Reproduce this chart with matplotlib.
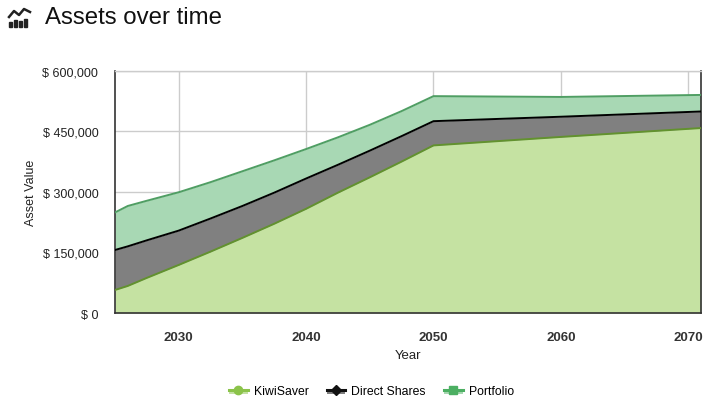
import numpy as np
import matplotlib
matplotlib.use("Agg")
import matplotlib.pyplot as plt
from matplotlib.lines import Line2D
from matplotlib.patches import Rectangle
from matplotlib.legend_handler import HandlerBase

plt.rcParams['font.family'] = ['Liberation Sans', 'DejaVu Sans']

# ---- data (values in NZD) ----
years = [2025, 2026, 2027.5, 2030, 2032.5, 2035, 2037.5, 2040, 2042.5, 2045, 2047.5, 2050, 2060, 2071]
kiwisaver = [57000, 67000, 87000, 119000, 152000, 186000, 221000, 258000, 298000, 336000, 375000, 415000, 436000, 458000]
direct_shares = [99000, 98000, 93000, 85000, 82000, 79000, 77000, 75000, 69000, 66000, 63000, 60000, 50000, 41000]
portfolio = [93000, 100000, 98000, 95000, 90000, 86000, 80000, 73000, 68000, 64000, 62000, 62000, 49000, 41000]
series_names = ["KiwiSaver", "Direct Shares", "Portfolio"]
x_ticks = [2030, 2040, 2050, 2060, 2070]
y_ticks = [0, 150000, 300000, 450000, 600000]

W, H = 727, 406
fig = plt.figure(figsize=(W / 100, H / 100), dpi=100)
ax = fig.add_axes([115 / W, 1 - 314 / H, (701 - 115) / W, (314 - 71.7) / H])

x = np.array(years)
c1 = np.array(kiwisaver, dtype=float)
c2 = c1 + np.array(direct_shares)
c3 = c2 + np.array(portfolio)

fill_cols = ["#c5e2a2", "#808080", "#a8d8b4"]
line_cols = ["#62922e", "#000000", "#4f9e63"]
ax.fill_between(x, 0, c1, color=fill_cols[0], lw=0, zorder=2)
ax.fill_between(x, c1, c2, color=fill_cols[1], lw=0, zorder=2)
ax.fill_between(x, c2, c3, color=fill_cols[2], lw=0, zorder=2)
ax.plot(x, c1, color=line_cols[0], lw=1.4, zorder=3)
ax.plot(x, c2, color=line_cols[1], lw=1.4, zorder=3)
ax.plot(x, c3, color=line_cols[2], lw=1.4, zorder=3)

ax.set_xlim(2025, 2071)
ax.set_ylim(0, 600000)
ax.set_xticks(x_ticks)
ax.set_yticks(y_ticks)
ax.set_yticklabels(["$ 0" if v == 0 else f"$ {v:,.0f}" for v in y_ticks])
ax.grid(True, color="#cccccc", lw=1, zorder=0)
ax.set_axisbelow(True)
ax.tick_params(length=0, labelsize=9, colors="#222222")
ax.tick_params(axis="x", pad=13, labelsize=9.5)
ax.tick_params(axis="y", pad=12)
for lab in ax.get_xticklabels():
    lab.set_fontweight("bold")
    lab.set_color("#333333")
for s in ["left", "bottom", "right"]:
    ax.spines[s].set_color("#333333")
    ax.spines[s].set_linewidth(1.2)
ax.spines["top"].set_color("#cccccc")
ax.spines["top"].set_linewidth(1)

ax.set_xlabel("Year", fontsize=9.5, color="#222222", labelpad=4)
ax.set_ylabel("Asset Value", fontsize=9, color="#222222", labelpad=4)

# title + icon
fig.text(45 / W, 1 - 18 / H, "Assets over time", fontsize=17.3, color="#111111",
         va="center", ha="left")
bars = [(9, 5), (14, 7), (19, 6), (24, 8)]
for bx, bh in bars:
    fig.add_artist(Rectangle((bx / W, 1 - 28 / H), 3 / W, bh / H,
                             transform=fig.transFigure, color="#222222"))
fig.add_artist(Line2D(np.array([9, 14, 19, 24, 30]) / W,
                      1 - np.array([18, 12, 16, 10, 13]) / H,
                      transform=fig.transFigure, color="#222222", lw=1.8))


class AreaHandler(HandlerBase):
    def __init__(self, fill, color, marker, ms):
        super().__init__()
        self.fill, self.color, self.marker, self.ms = fill, color, marker, ms

    def create_artists(self, legend, orig_handle, xdescent, ydescent, width,
                       height, fontsize, trans):
        x0, y0 = -xdescent, -ydescent
        ym = y0 + height / 2
        rect = Rectangle((x0, y0), width, height / 2, facecolor=self.fill,
                         edgecolor="none", transform=trans)
        ln = Line2D([x0, x0 + width], [ym, ym], color=self.color, lw=2.2,
                    transform=trans)
        mk = Line2D([x0 + width / 2], [ym], marker=self.marker, ms=self.ms,
                    color=self.color, lw=0, transform=trans)
        return [rect, ln, mk]


handles = [Line2D([], []), Line2D([], []), Line2D([], [])]
hmap = {
    handles[0]: AreaHandler("#c5e1a5", "#8bc34a", "o", 6),
    handles[1]: AreaHandler("#808080", "#111111", "D", 5),
    handles[2]: AreaHandler("#a6d7b0", "#4caf62", "s", 6),
}
fig.legend(handles, series_names, handler_map=hmap, loc="center",
           bbox_to_anchor=(371.5 / W, 1 - 392 / H), ncol=3, frameon=False,
           fontsize=8.8, handlelength=1.5, handleheight=0.8,
           columnspacing=1.5, handletextpad=0.5)

fig.savefig("out.png", dpi=100)
